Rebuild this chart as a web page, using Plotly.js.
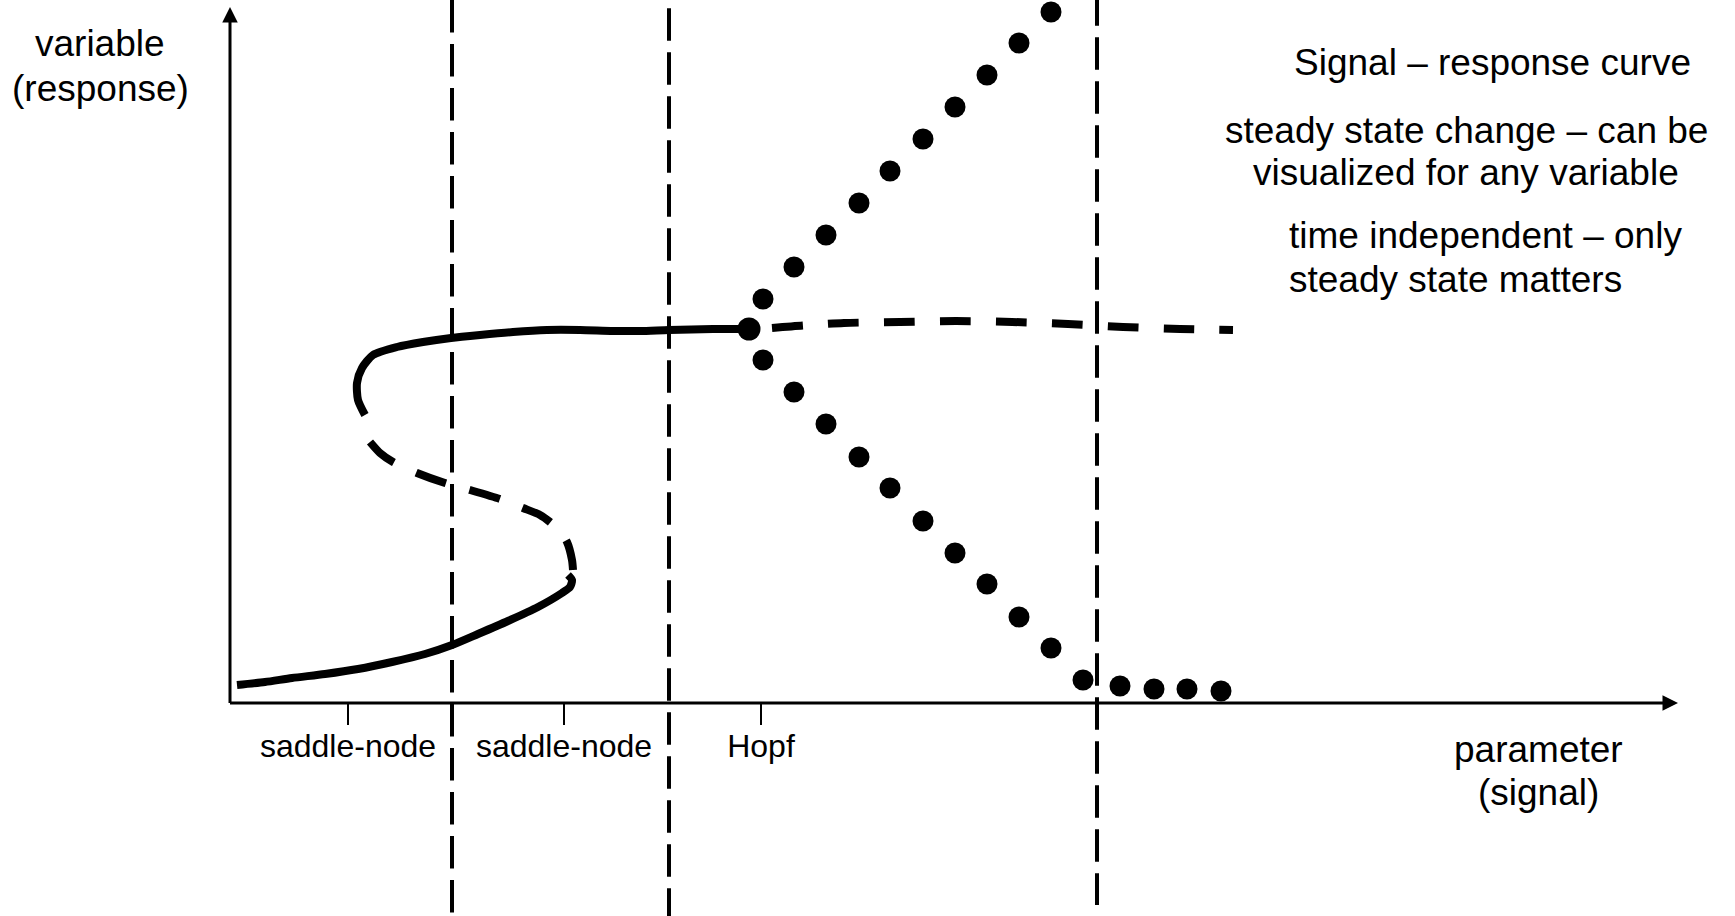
<!DOCTYPE html>
<html>
<head>
<meta charset="utf-8">
<script src="https://cdn.plot.ly/plotly-3.0.1.min.js"></script>
<style>
  html, body { margin: 0; padding: 0; background: #ffffff; }
  #chart { width: 1735px; height: 916px; }
</style>
</head>
<body>
<div id="chart"></div>
<script>
// Signal-response (bifurcation) diagram: steady state of a variable vs. a parameter.

// Lower stable branch (solid)
const lowStableX = [0.7, 3.5, 6.2, 9.5, 12.8, 16.2, 19.5, 22.2, 24.8, 27.8, 30.8, 33.2, 34.0, 34.2, 33.8];
const lowStableY = [1.8, 2.1, 2.5, 2.9, 3.4, 4.1, 4.9, 5.8, 6.9, 8.2, 9.6, 11.0, 11.6, 12.3, 12.8];

// Middle unstable branch between the two saddle-nodes (dashed)
const midUnstableX = [14.0, 15.0, 16.3, 18.7, 21.5, 24.0, 27.0, 29.3, 31.0, 32.0, 32.9, 33.7, 34.2, 34.3];
const midUnstableY = [26.1, 25.0, 24.1, 23.0, 22.0, 21.3, 20.4, 19.5, 18.8, 18.1, 17.3, 16.1, 14.3, 13.3];

// Upper stable branch up to the Hopf point (solid)
const upStableX = [13.5, 12.8, 12.7, 13.2, 14.3, 16.7, 19.3, 22.1, 25.0, 28.3, 31.7, 35.0, 38.3, 41.0, 43.9, 48.3, 51.9];
const upStableY = [28.8, 30.3, 32.0, 33.5, 34.8, 35.6, 36.1, 36.5, 36.8, 37.1, 37.3, 37.3, 37.2, 37.2, 37.3, 37.4, 37.4];

// Hopf bifurcation point
const hopfX = [51.9];
const hopfY = [37.4];

// Upper branch beyond the Hopf point, now unstable (dashed)
const upUnstableX = [54.2, 57.3, 61.4, 67.0, 72.6, 78.2, 83.8, 89.3, 95.0, 100.3];
const upUnstableY = [37.5, 37.75, 38.0, 38.1, 38.2, 38.1, 37.9, 37.6, 37.4, 37.3];

// Limit-cycle amplitude: maxima and minima of the oscillation (dots)
const cycleMaxX = [53.3, 56.4, 59.6, 62.9, 66.0, 69.3, 72.5, 75.7, 78.9, 82.1];
const cycleMaxY = [40.4, 43.6, 46.8, 50.0, 53.2, 56.4, 59.6, 62.8, 66.0, 69.1];
const cycleMinX = [53.3, 56.4, 59.6, 62.9, 66.0, 69.3, 72.5, 75.7, 78.9, 82.1, 85.3, 89.0, 92.4, 95.7, 99.1];
const cycleMinY = [34.3, 31.1, 27.9, 24.6, 21.5, 18.2, 15.0, 11.9, 8.6, 5.5, 2.3, 1.7, 1.4, 1.4, 1.2];

// Parameter values separating the regimes
const boundaryX = [22.2, 43.9, 86.7];

// Bifurcation tick marks on the parameter axis
const tickX = [11.8, 33.4, 53.1];
const tickLabels = ['saddle-node', 'saddle-node', 'Hopf'];

// Axis extent (arrow tips)
const axisEndX = 144.8;
const axisEndY = 69.6;

// Text
const yAxisLabel = ['variable', '(response)'];
const xAxisLabel = ['parameter', '(signal)'];
const notes = [
  'Signal \u2013 response curve',
  'steady state change \u2013 can be',
  'visualized for any variable',
  'time independent \u2013 only',
  'steady state matters'
];

const W = 1735, H = 916;
const FONT = 'Liberation Sans, Arial, Helvetica, sans-serif';
const INK = '#000000';

const curve = (x, y, dash) => ({
  x, y, type: 'scatter', mode: 'lines',
  line: { color: INK, width: 8, shape: 'spline', smoothing: 0.7, dash: dash || 'solid' },
  hoverinfo: 'skip', showlegend: false
});

const dots = (x, y, size) => ({
  x, y, type: 'scatter', mode: 'markers',
  marker: { color: INK, size, line: { width: 0 } },
  cliponaxis: false, hoverinfo: 'skip', showlegend: false
});

const traces = [
  curve(lowStableX, lowStableY),
  curve(midUnstableX, midUnstableY, '32px,24px'),
  curve(upStableX, upStableY),
  curve(upUnstableX, upUnstableY, '31px,25px'),
  dots(cycleMaxX, cycleMaxY, 21),
  dots(cycleMinX, cycleMinY, 21),
  dots(hopfX, hopfY, 23),
  {
    // arrowheads of the two axes
    x: [0, axisEndX], y: [axisEndY, 0], type: 'scatter', mode: 'markers',
    marker: { color: INK, size: 15.5, symbol: ['arrow-up', 'arrow-right'], line: { width: 0 } },
    cliponaxis: false, hoverinfo: 'skip', showlegend: false
  }
];

// dashed vertical separators (start offsets keep the dash phase)
const sepTop = [70.3, 73.87, 70.97];
const sepBottom = [-21.1, -21.4, -20.2];
const shapes = boundaryX.map((bx, i) => ({
  type: 'line', xref: 'x', yref: 'y',
  x0: bx, x1: bx, y0: sepTop[i], y1: sepBottom[i],
  line: { color: INK, width: 4, dash: '32.5px,11.5px' }
}));
// axis lines
shapes.push({ type: 'line', xref: 'x', yref: 'y', x0: 0, x1: 0, y0: 0, y1: axisEndY - 1,
  line: { color: INK, width: 3 } });
shapes.push({ type: 'line', xref: 'x', yref: 'y', x0: 0, x1: axisEndX - 1, y0: 0, y1: 0,
  line: { color: INK, width: 3 } });

const note = (text, xPx, yPx, anchor, size) => ({
  text, xref: 'paper', yref: 'paper', x: xPx / W, y: 1 - yPx / H,
  xanchor: anchor, yanchor: 'middle', showarrow: false,
  font: { family: FONT, size, color: INK }
});

const annotations = [
  note(yAxisLabel[0], 100, 43, 'center', 37),
  note(yAxisLabel[1], 100, 88, 'center', 37),
  note(xAxisLabel[0], 1538, 749, 'center', 37),
  note(xAxisLabel[1], 1538, 792, 'center', 37),
  note(notes[0], 1492, 63, 'center', 37),
  note(notes[1], 1466, 130, 'center', 37),
  note(notes[2], 1466, 173, 'center', 37),
  note(notes[3], 1287, 235, 'left', 37),
  note(notes[4], 1287, 279, 'left', 37)
];

const layout = {
  width: W, height: H,
  margin: { l: 0, r: 0, t: 0, b: 0, pad: 0 },
  paper_bgcolor: '#ffffff', plot_bgcolor: '#ffffff',
  showlegend: false, hovermode: false,
  xaxis: {
    range: [-23, 150.5], domain: [0, 1],
    anchor: 'free', position: 1 - 703 / H, side: 'bottom',
    showgrid: false, zeroline: false, showline: false,
    tickmode: 'array', tickvals: tickX, ticktext: tickLabels,
    ticks: 'outside', ticklen: 21, tickwidth: 2, tickcolor: INK,
    ticklabelstandoff: -6,
    tickfont: { family: FONT, size: 32, color: INK },
    fixedrange: true
  },
  yaxis: {
    range: [-21.3, 70.3], domain: [0, 1],
    showgrid: false, zeroline: false, showline: false,
    showticklabels: false, ticks: '', fixedrange: true
  },
  shapes, annotations
};

Plotly.newPlot('chart', traces, layout, { displayModeBar: false, staticPlot: true });
</script>
</body>
</html>
